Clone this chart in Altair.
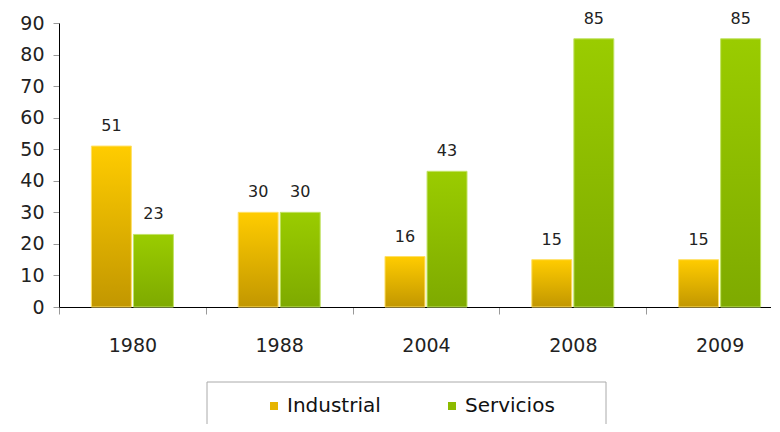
import altair as alt
import pandas as pd

years = ["1980", "1988", "2004", "2008", "2009"]
industrial = [51, 30, 16, 15, 15]
servicios = [23, 30, 43, 85, 85]
series = ["Industrial", "Servicios"]
y_ticks = [0, 10, 20, 30, 40, 50, 60, 70, 80, 90]

rows = []
for i, yr in enumerate(years):
    rows.append({"year": yr, "serie": "Industrial", "value": industrial[i]})
    rows.append({"year": yr, "serie": "Servicios", "value": servicios[i]})
df = pd.DataFrame(rows)

FONT = "DejaVu Sans"

grad_ind = alt.Gradient(
    gradient="linear", x1=0, y1=0, x2=0, y2=1,
    stops=[alt.GradientStop(color="#FFCC00", offset=0),
           alt.GradientStop(color="#C29700", offset=1)])
grad_ser = alt.Gradient(
    gradient="linear", x1=0, y1=0, x2=0, y2=1,
    stops=[alt.GradientStop(color="#9ACC00", offset=0),
           alt.GradientStop(color="#7EAA00", offset=1)])

x_enc = alt.X("year:N", sort=years, title=None,
              scale=alt.Scale(paddingInner=0, paddingOuter=0),
              axis=alt.Axis(labelAngle=0, labelFontSize=19, labelFont=FONT,
                            labelColor="#222222", domainColor="#000000",
                            tickColor="#999999", tickSize=7, tickBand="extent",
                            labelPadding=22))
xo_enc = alt.XOffset("serie:N", sort=series,
                     scale=alt.Scale(domain=series, paddingInner=0.05, paddingOuter=0.77))
y_enc = alt.Y("value:Q", title=None,
              scale=alt.Scale(domain=[0, 90]),
              axis=alt.Axis(values=y_ticks, grid=False, labelFontSize=19,
                            labelFont=FONT, labelColor="#222222",
                            domainColor="#000000", tickColor="#999999",
                            tickSize=6, labelPadding=9))

base = alt.Chart(df)

# legend frame (decoration)
frame = alt.Chart(pd.DataFrame({"k": [0]})).mark_rect(
    fill="#FFFFFF", stroke="#AAAAAA", strokeWidth=1).encode(
    x=alt.value(148), x2=alt.value(547), y=alt.value(359), y2=alt.value(440))

bars_ind = base.transform_filter(alt.datum.serie == "Industrial").mark_bar(
    fill=grad_ind, stroke="#FFE066", strokeWidth=1).encode(
    x=x_enc, xOffset=xo_enc, y=y_enc)
bars_ser = base.transform_filter(alt.datum.serie == "Servicios").mark_bar(
    fill=grad_ser, stroke="#C2E366", strokeWidth=1).encode(
    x=x_enc, xOffset=xo_enc, y=y_enc)

legend_layer = base.mark_square(opacity=0, size=1).encode(
    x=x_enc, xOffset=xo_enc, y=y_enc,
    color=alt.Color("serie:N", sort=series,
                    scale=alt.Scale(domain=series, range=["#E6B400", "#8CBB00"]),
                    legend=alt.Legend(
                        title=None, orient="none", legendX=148, legendY=359,
                        direction="horizontal", columns=2,
                        symbolType="square", symbolSize=64, symbolOpacity=1,
                        symbolStrokeWidth=0,
                        labelFontSize=20, labelFont=FONT, labelColor="#111111",
                        labelOffset=3, columnPadding=18, symbolOffset=43,
                        padding=14)))

labels = base.mark_text(baseline="bottom", dy=-12, fontSize=16, font=FONT,
                        color="#222222").encode(
    x=x_enc, xOffset=xo_enc, y=y_enc, text=alt.Text("value:Q"))

chart = alt.layer(frame, bars_ind, bars_ser, legend_layer, labels).properties(
    width=734, height=284,
    autosize=alt.AutoSizeParams(type="none"),
    padding={"left": 51, "top": 15, "right": -22, "bottom": 117},
).configure_view(stroke=None)

chart.save("out.html", embed_options={"renderer": "svg", "actions": False})
